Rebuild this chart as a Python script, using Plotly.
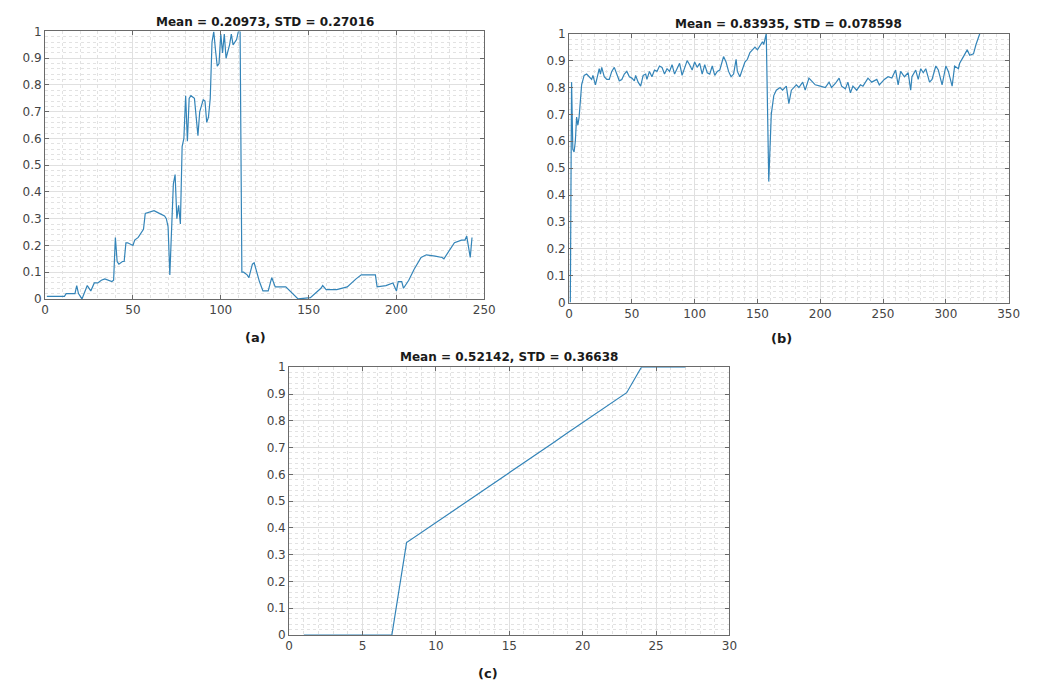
import plotly.graph_objects as go

# ---------------- data ----------------
a_x = [1, 11, 12, 17, 18, 19, 21, 23, 24, 26, 28, 30, 32, 34, 36, 38, 39, 40, 41, 42,
       44, 45, 46, 47, 50, 51, 53, 55, 56, 57, 62, 65, 68, 69, 70, 71, 73, 74, 75, 76,
       77, 78, 79, 80, 81, 82, 83, 85, 87, 88, 90, 91, 92, 93, 94, 95, 96, 97, 98, 99,
       100, 101, 102, 103, 105, 106, 107, 109, 110, 111, 112, 113, 115, 116, 118, 119,
       120, 122, 124, 127, 129, 131, 137, 142, 144, 151, 157, 158, 160, 166, 172, 177,
       180, 188, 189, 194, 198, 200, 201, 203, 204, 207, 210, 214, 217, 222, 226, 227,
       230, 233, 237, 239, 240, 242, 243]
a_y = [0.01, 0.01, 0.02, 0.02, 0.05, 0.02, 0.0, 0.03, 0.05, 0.03, 0.06, 0.06, 0.07, 0.075,
       0.07, 0.065, 0.07, 0.23, 0.14, 0.13, 0.14, 0.14, 0.21, 0.21, 0.20, 0.22, 0.23, 0.25,
       0.26, 0.32, 0.33, 0.32, 0.31, 0.30, 0.27, 0.09, 0.43, 0.465, 0.30, 0.35, 0.28, 0.57,
       0.60, 0.76, 0.59, 0.75, 0.76, 0.75, 0.61, 0.70, 0.745, 0.74, 0.66, 0.68, 0.75, 0.96,
       1.0, 0.93, 0.87, 0.88, 0.99, 0.92, 0.99, 0.90, 0.95, 0.99, 0.95, 0.97, 1.0, 1.0,
       0.10, 0.10, 0.09, 0.08, 0.13, 0.135, 0.11, 0.065, 0.03, 0.03, 0.08, 0.045, 0.045,
       0.01, 0.0, 0.005, 0.04, 0.05, 0.035, 0.035, 0.045, 0.075, 0.09, 0.09, 0.045, 0.05,
       0.06, 0.03, 0.065, 0.065, 0.04, 0.07, 0.11, 0.155, 0.165, 0.16, 0.155, 0.15, 0.18,
       0.21, 0.22, 0.22, 0.235, 0.155, 0.23]

b_x = [1, 2, 3, 4, 5, 6, 7, 8, 9, 10, 12, 14, 16, 18, 19, 21, 23, 24, 25, 26, 28, 30, 32,
       34, 36, 38, 40, 42, 44, 46, 48, 50, 52, 53, 55, 57, 59, 61, 62, 64, 66, 68, 70, 72,
       74, 76, 78, 80, 82, 84, 86, 88, 90, 92, 94, 96, 98, 100, 102, 104, 106, 108, 110,
       112, 114, 116, 118, 120, 122, 123, 125, 127, 129, 131, 133, 134, 136, 138, 140,
       142, 144, 146, 148, 150, 152, 154, 155, 156, 157, 159, 161, 163, 165, 168, 170,
       173, 175, 177, 181, 183, 186, 188, 191, 194, 196, 200, 204, 207, 209, 212, 215,
       217, 220, 222, 224, 226, 229, 232, 234, 238, 241, 245, 247, 251, 254, 257, 259,
       260, 262, 264, 267, 270, 272, 273, 276, 278, 280, 282, 284, 287, 289, 292, 294,
       297, 300, 302, 305, 307, 310, 311, 314, 317, 319, 322, 324, 326, 327]
b_y = [0.0, 0.82, 0.57, 0.56, 0.60, 0.69, 0.66, 0.69, 0.75, 0.81, 0.845, 0.85, 0.84, 0.83,
       0.845, 0.81, 0.85, 0.87, 0.85, 0.875, 0.84, 0.83, 0.83, 0.86, 0.875, 0.85, 0.825,
       0.83, 0.85, 0.86, 0.84, 0.835, 0.825, 0.845, 0.82, 0.805, 0.845, 0.85, 0.83, 0.86,
       0.84, 0.865, 0.86, 0.88, 0.875, 0.85, 0.87, 0.86, 0.885, 0.85, 0.87, 0.89, 0.845,
       0.87, 0.90, 0.885, 0.865, 0.895, 0.875, 0.89, 0.85, 0.885, 0.855, 0.85, 0.88, 0.845,
       0.86, 0.865, 0.905, 0.915, 0.895, 0.86, 0.84, 0.85, 0.905, 0.86, 0.84, 0.87, 0.895,
       0.905, 0.93, 0.94, 0.95, 0.94, 0.955, 0.97, 0.96, 0.985, 1.0, 0.45, 0.70, 0.77,
       0.79, 0.80, 0.79, 0.805, 0.74, 0.79, 0.81, 0.80, 0.82, 0.79, 0.835, 0.82, 0.81,
       0.805, 0.80, 0.82, 0.80, 0.815, 0.835, 0.805, 0.795, 0.82, 0.78, 0.805, 0.79, 0.81,
       0.805, 0.835, 0.82, 0.83, 0.81, 0.83, 0.84, 0.835, 0.86, 0.865, 0.81, 0.86, 0.84,
       0.855, 0.79, 0.84, 0.865, 0.83, 0.87, 0.855, 0.87, 0.82, 0.83, 0.88, 0.865, 0.81,
       0.88, 0.86, 0.805, 0.88, 0.87, 0.89, 0.915, 0.94, 0.92, 0.925, 0.96, 0.99, 1.0]

c_x = list(range(1, 28))
c_y = [0, 0, 0, 0, 0, 0, 0, 0.345, 0.382, 0.420, 0.457, 0.494, 0.532, 0.569, 0.606,
       0.644, 0.681, 0.718, 0.756, 0.793, 0.830, 0.868, 0.905, 1.0, 1.0, 1.0, 1.0]

titles = ["Mean = 0.20973, STD = 0.27016",
          "Mean = 0.83935, STD = 0.078598",
          "Mean = 0.52142, STD = 0.36638"]
labels = ["(a)", "(b)", "(c)"]

# ---------------- figure ----------------
W, H = 1044, 690
LINE = "#3384b8"
FONT = "DejaVu Sans"

def px_x(p):
    return p / W

def px_y(p):
    return 1 - p / H

fig = go.Figure()
fig.add_trace(go.Scatter(x=a_x, y=a_y, mode="lines", line=dict(color=LINE, width=1.2),
                         xaxis="x", yaxis="y", showlegend=False))
fig.add_trace(go.Scatter(x=b_x, y=b_y, mode="lines", line=dict(color=LINE, width=1.2),
                         xaxis="x2", yaxis="y2", showlegend=False))
fig.add_trace(go.Scatter(x=c_x, y=c_y, mode="lines", line=dict(color=LINE, width=1.2),
                         xaxis="x3", yaxis="y3", showlegend=False))

def xax(domain, rng, dt, mdt, anchor):
    return dict(domain=domain, range=rng, dtick=dt, tick0=0, anchor=anchor,
                showline=True, linecolor="#6a6a6a", linewidth=1, mirror="ticks",
                ticks="inside", ticklen=4, tickcolor="#6a6a6a",
                showgrid=True, gridcolor="#e0e0e0", gridwidth=1,
                minor=dict(dtick=mdt, showgrid=True, gridcolor="#e2e2e2",
                           griddash="dot", ticks=""),
                zeroline=False, fixedrange=True,
                tickfont=dict(family=FONT, size=12, color="#444444"))

def yax(domain, anchor):
    return dict(domain=domain, range=[0, 1], dtick=0.1, tick0=0, anchor=anchor,
                showline=True, linecolor="#6a6a6a", linewidth=1, mirror="ticks",
                ticks="inside", ticklen=4, tickcolor="#6a6a6a",
                showgrid=True, gridcolor="#e0e0e0", gridwidth=1,
                minor=dict(dtick=0.02, showgrid=True, gridcolor="#e2e2e2",
                           griddash="dot", ticks=""),
                zeroline=False, fixedrange=True,
                tickfont=dict(family=FONT, size=12, color="#444444"))

fig.update_layout(
    width=W, height=H, margin=dict(l=0, r=0, t=0, b=0),
    paper_bgcolor="white", plot_bgcolor="white",
    xaxis=xax([px_x(41.7), px_x(487.3)], [0, 250], 50, 10, "y"),
    yaxis=yax([px_y(298), px_y(25)], "x"),
    xaxis2=xax([px_x(573.3), px_x(1019.3)], [0, 350], 50, 10, "y2"),
    yaxis2=yax([px_y(301.7), px_y(27.3)], "x2"),
    xaxis3=xax([px_x(289.3), px_x(736)], [0, 30], 5, 1, "y3"),
    yaxis3=yax([px_y(641), px_y(367.7)], "x3"),
)

title_pos = [(264.5, 15), (796, 17), (512.5, 357)]
label_pos = [(255, 337), (789, 338), (491, 680)]
for t, (x, y) in zip(titles, title_pos):
    fig.add_annotation(text="<b>" + t + "</b>", x=px_x(x), y=px_y(y), xref="paper",
                       yref="paper", showarrow=False, xanchor="center", yanchor="middle",
                       font=dict(family=FONT, size=12, color="#1a1a1a"))
for t, (x, y) in zip(labels, label_pos):
    fig.add_annotation(text="<b>" + t + "</b>", x=px_x(x), y=px_y(y), xref="paper",
                       yref="paper", showarrow=False, xanchor="center", yanchor="middle",
                       font=dict(family=FONT, size=13, color="#1a1a1a"))

fig.write_html("out.html")
